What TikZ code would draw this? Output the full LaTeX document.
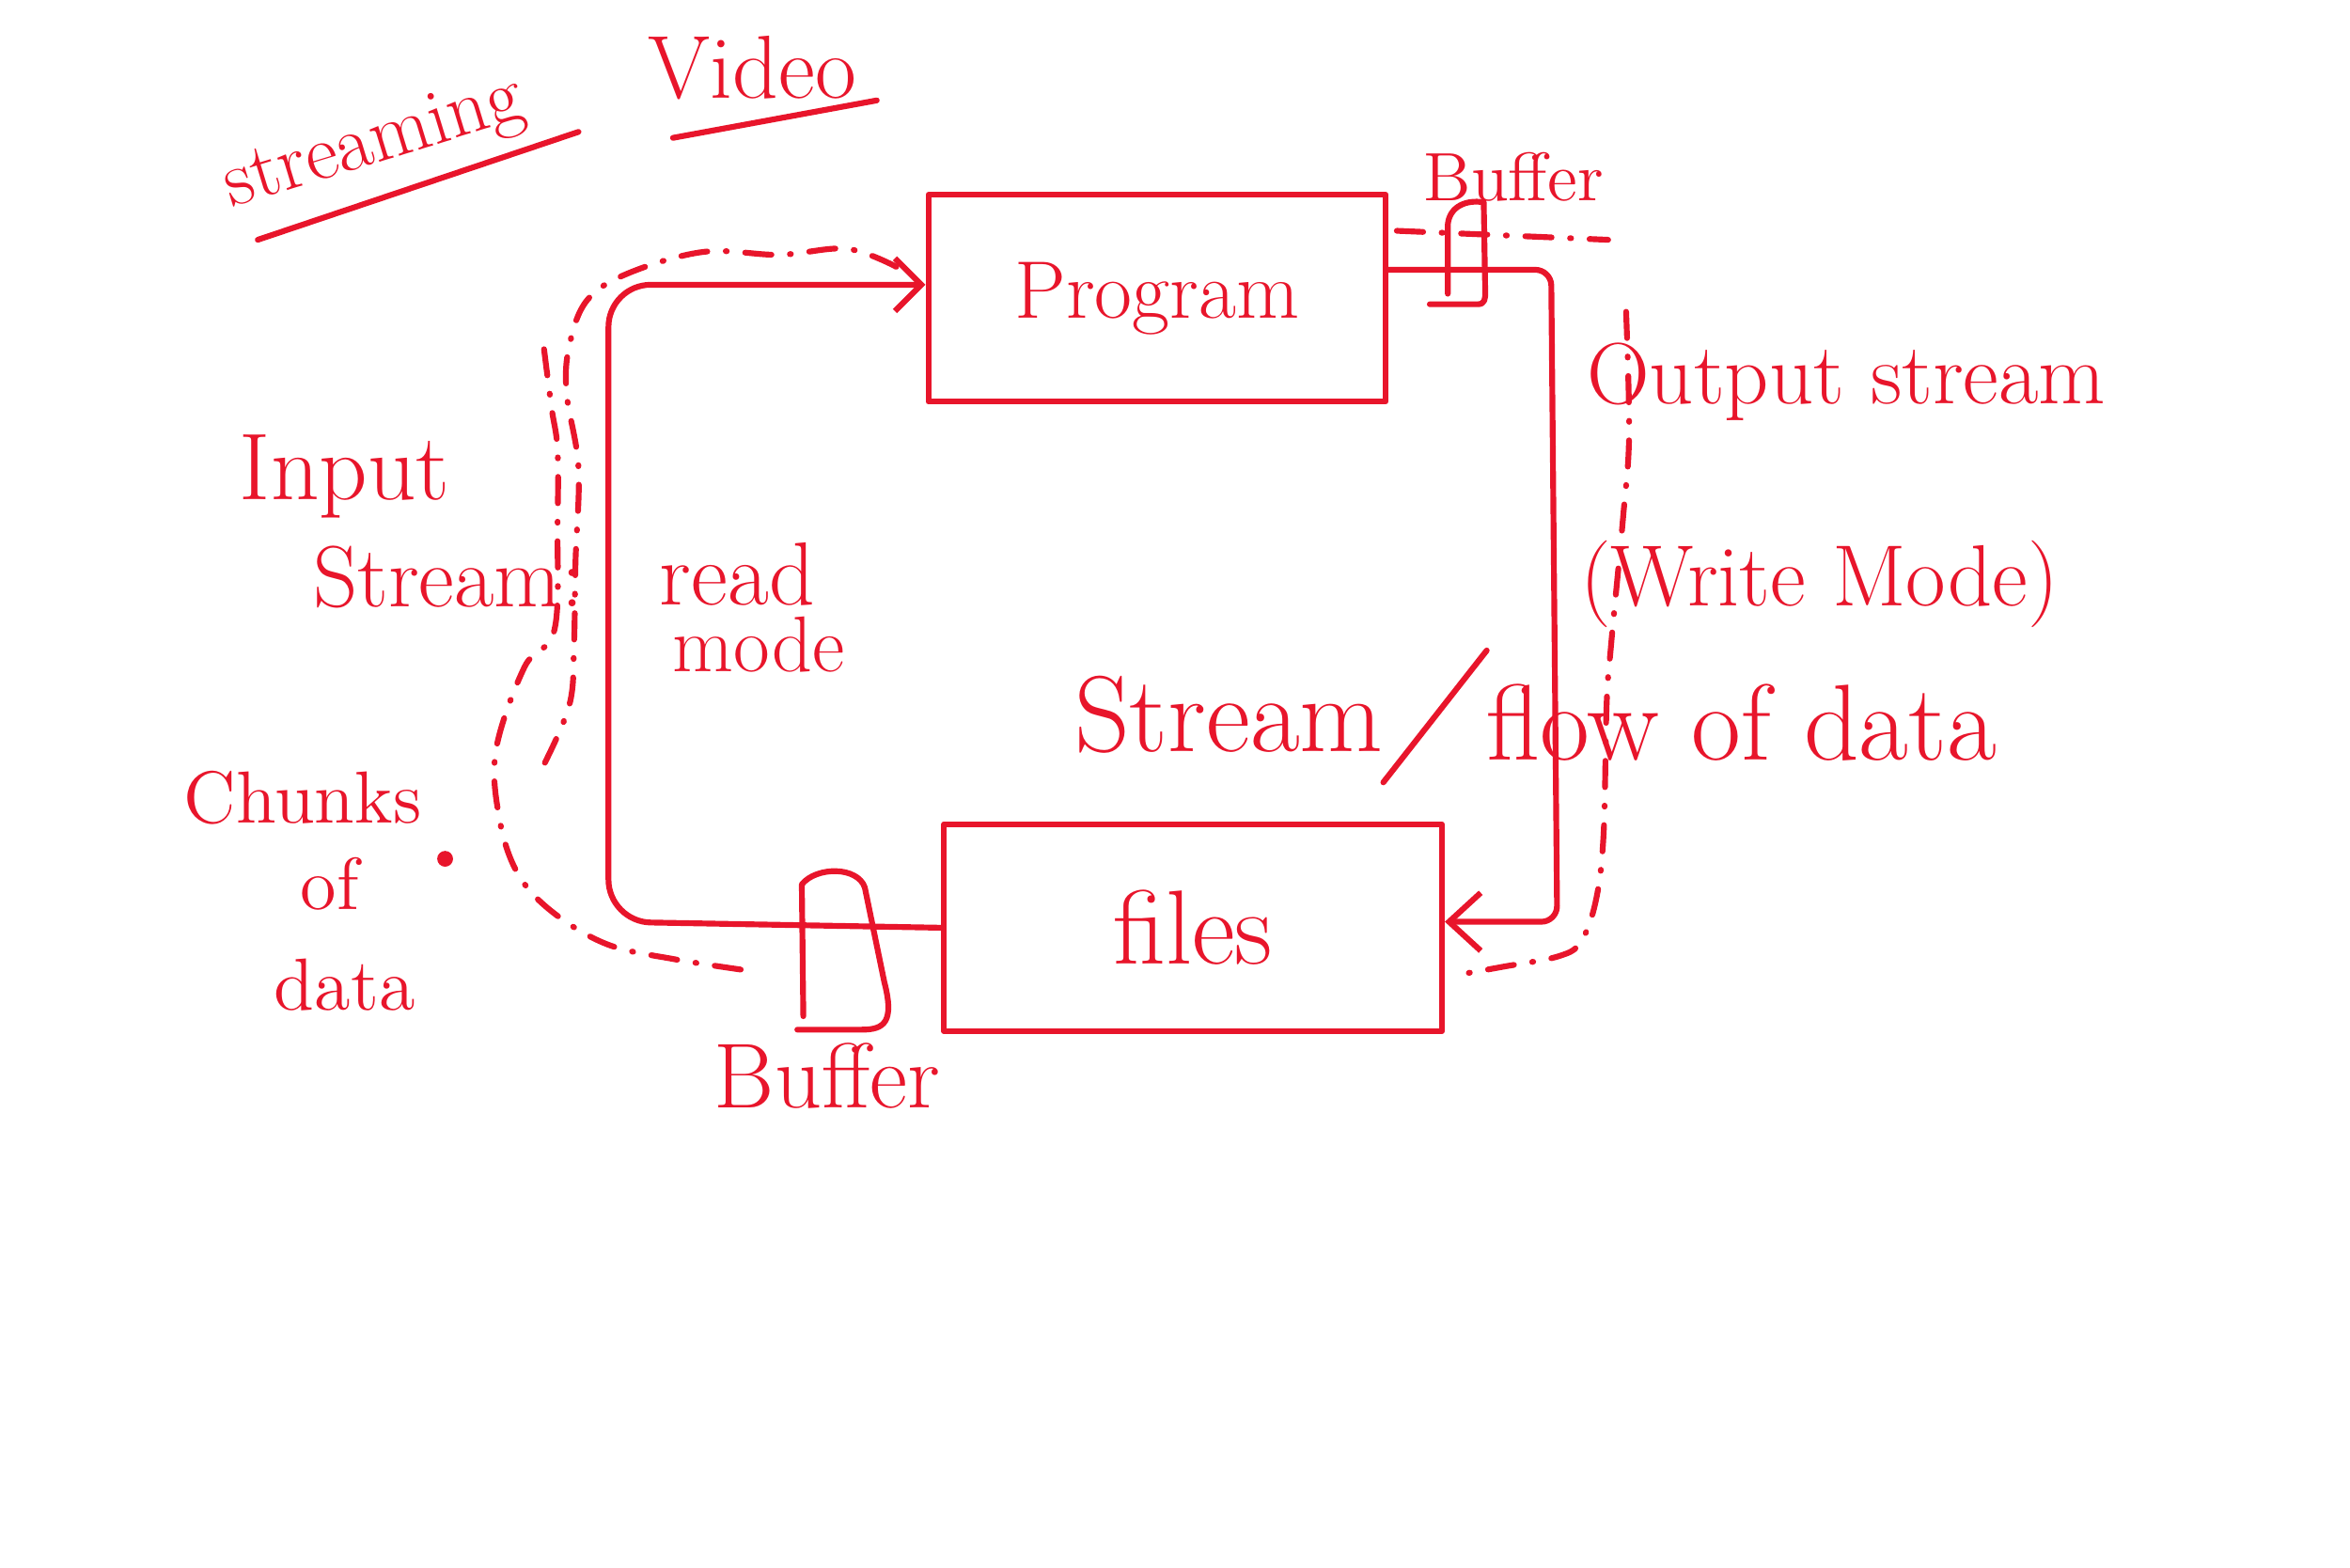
\documentclass[tikz,border=0pt]{standalone}
\usetikzlibrary{arrows.meta}
\definecolor{ink}{HTML}{E8152B}
\begin{document}
\begin{tikzpicture}[x=0.01cm,y=-0.01cm,
  pen/.style={draw=ink,line width=1.1pt,line cap=round,line join=round},
  dd/.style={draw=ink,line width=1.1pt,line cap=round,dash pattern=on 5pt off 3.5pt on 0.2pt off 3.5pt},
  lbl/.style={text=ink,inner sep=0pt,font=\fontsize{#1}{#1}\selectfont},
  box/.style={pen,rectangle,inner sep=0pt,text=ink},
  tipR/.style={-{Straight Barb[length=6pt,width=11pt]}},
  tipL/.style={-{Straight Barb[length=5pt,width=10pt]}}
]
\path[use as bounding box] (0,0) rectangle (1568,1046);

% boxes
\node[box,minimum width=3.05cm,minimum height=1.38cm,font=\fontsize{15.5}{15.5}\selectfont] (prog) at (772,199) {Program};
\node[box,minimum width=3.32cm,minimum height=1.38cm,font=\fontsize{20}{20}\selectfont] (files) at (796,619) {files};

% right loop (output)
\coordinate (rtop) at (1035,180);
\coordinate (rbot) at (1039,615);
\draw[pen,tipR,rounded corners=3pt] (prog.east |- rtop) -- (rtop) -- (rbot) -- (files.east |- rbot);

% left loop (input)
\coordinate (lbot) at (406,615);
\coordinate (ltop) at (406,190);
\draw[pen,tipL,rounded corners=8pt] (files.west) -- (lbot) -- (ltop) -- (prog.west |- ltop);

% buffers
\draw[pen] (954,203) -- (986,203) .. controls (991,203) and (991,199) .. (991,195) -- (990,135) .. controls (978,133) and (967,138) .. (966,150) -- (966,196);
\draw[pen] (536,678) -- (535,590) .. controls (545,578) and (572,578) .. (577,592) -- (590,655) .. controls (597,682) and (590,687) .. (575,687) -- (532,687);

% dash-dot flows
\draw[dd] plot[smooth,tension=0.6] coordinates {(598,178) (565,166) (520,170) (470,168) (420,182) (392,200) (380,230) (378,262) (386,312) (384,375) (383,430) (380,470) (363,510)};
\draw[dd] plot[smooth,tension=0.6] coordinates {(363,233) (368,272) (372,300) (372,350) (370,420) (350,445) (331,500) (333,545) (345,582) (368,608) (405,630) (450,640) (502,648)};
\draw[dd] (932,154) -- (1073,160);
\draw[dd] plot[smooth,tension=0.6] coordinates {(1085,208) (1087,290) (1083,345) (1075,430) (1072,470) (1070,556) (1065,600) (1055,628) (1040,638) (1003,645) (975,650)};

% labels
\node[lbl=15,rotate=17] (tstreaming) at (250,97) {streaming};
\draw[pen] (172,160) -- (386,88);
\node[lbl=17] (tvideo) at (502,45) {Video};
\draw[pen] (449,92) -- (585,67);
\node[lbl=13] (tbuf1) at (1010,118) {Buffer};
\node[lbl=16.5] (tout) at (1232,255) {Output stream};
\node[lbl=16.5] (twrite) at (1214,390) {(Write Mode)};
\node[lbl=20.5] (tstr) at (820,477) {Stream};
\draw[pen] (923,522) -- (992,434);
\node[lbl=20.5] (tflow) at (1162,482) {flow of data};
\node[lbl=18] (tin1) at (230,318) {Input};
\node[lbl=16.5] (tin2) at (299,385) {Stream:};
\node[lbl=17] (tread) at (492,383) {read};
\node[lbl=15] (tmode) at (506,430) {mode};
\node[lbl=14] (tch1) at (202,532) {Chunks};
\node[lbl=14] (tch2) at (220,590) {of};
\node[lbl=14] (tch3) at (230,657) {data};
\node[lbl=17.5] (tbuf2) at (552,718) {Buffer};
\fill[ink] (297,573) circle (1.5pt);
\end{tikzpicture}
\end{document}
